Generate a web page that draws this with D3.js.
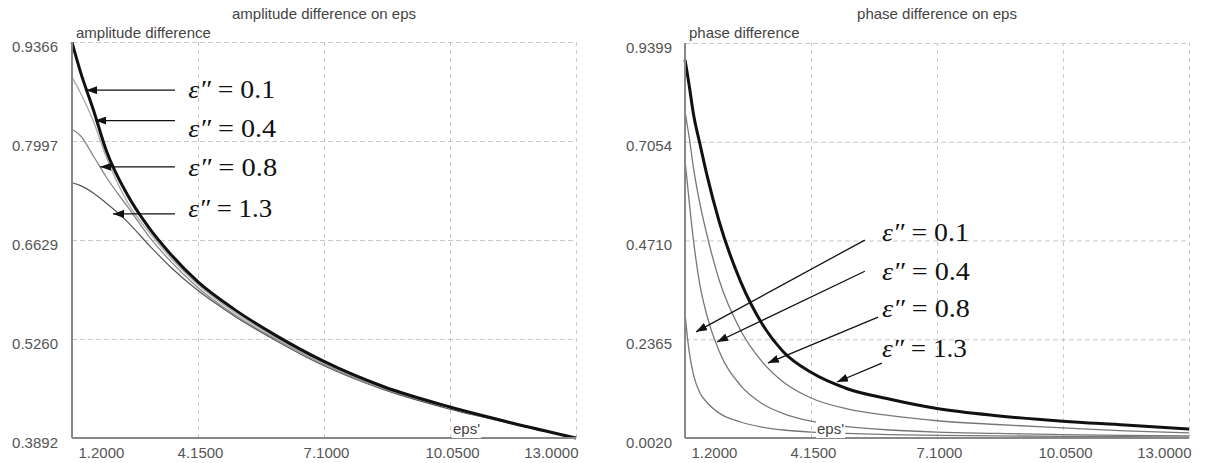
<!DOCTYPE html>
<html>
<head>
  <meta charset="utf-8">
  <script src="https://cdnjs.cloudflare.com/ajax/libs/d3/7.8.5/d3.min.js"></script>
  <style>
    body { margin: 0; background: #fff; }
    /* tick labels and titles */
    .tick text { font-family: "Liberation Sans", Arial, sans-serif; font-size: 15px; fill: #555; }
    .lbl { font-family: "Liberation Sans", Arial, sans-serif; font-size: 15px; fill: #444; }
    /* epsilon annotations */
    .eps { font-family: "Liberation Serif", "Times New Roman", serif; font-size: 25px; fill: #111; }
  </style>
</head>
<body>
<script>
"use strict";

// eps' sample points
var ampX = [1.2, 1.4, 1.7, 2.0, 2.5, 3.0, 3.5, 4.15, 5.0, 6.0, 7.1, 8.5, 10.05, 11.5, 13.0];
var phaseX = [1.2, 1.25, 1.3, 1.4, 1.55, 1.7, 2.0, 2.5, 3.0, 3.5, 4.15, 5.0, 6.0, 7.1, 8.5, 10.05, 11.5, 13.0];

// tick labels
var xTicks = [1.2, 4.15, 7.1, 10.05, 13.0];
var ampTicks = [0.3892, 0.5260, 0.6629, 0.7997, 0.9366];
var phaseTicks = [0.0020, 0.2365, 0.4710, 0.7054, 0.9399];

// amplitude difference for eps'' = 0.1, 0.4, 0.8, 1.3
var amp01 = [0.936, 0.895, 0.843, 0.787, 0.725, 0.680, 0.644, 0.605, 0.567, 0.530, 0.495, 0.460, 0.432, 0.410, 0.3892];
var amp04 = [0.888, 0.866, 0.827, 0.778, 0.715, 0.674, 0.639, 0.601, 0.563, 0.527, 0.493, 0.458, 0.431, 0.409, 0.3892];
var amp08 = [0.816, 0.807, 0.779, 0.750, 0.709, 0.668, 0.634, 0.597, 0.560, 0.525, 0.491, 0.457, 0.431, 0.409, 0.3892];
var amp13 = [0.742, 0.738, 0.728, 0.714, 0.688, 0.656, 0.626, 0.593, 0.558, 0.523, 0.489, 0.456, 0.429, 0.409, 0.3892];

// phase difference for eps'' = 0.1, 0.4, 0.8, 1.3
var phase01 = [0.299, 0.247, 0.206, 0.152, 0.109, 0.088, 0.061, 0.040, 0.028, 0.021, 0.016, 0.013, 0.010, 0.008, 0.007, 0.006, 0.005, 0.004];
var phase04 = [0.662, 0.612, 0.562, 0.470, 0.365, 0.298, 0.208, 0.127, 0.084, 0.060, 0.042, 0.029, 0.021, 0.016, 0.013, 0.010, 0.008, 0.007];
var phase08 = [0.779, 0.746, 0.715, 0.642, 0.558, 0.490, 0.377, 0.258, 0.184, 0.135, 0.097, 0.071, 0.055, 0.043, 0.034, 0.026, 0.019, 0.014];
var phase13 = [0.900, 0.870, 0.838, 0.770, 0.700, 0.632, 0.516, 0.374, 0.274, 0.207, 0.158, 0.119, 0.094, 0.072, 0.055, 0.042, 0.033, 0.023];

var svg = d3.select("body").append("svg")
    .attr("width", 1205)
    .attr("height", 463);

// arrow head
svg.append("defs").append("marker")
    .attr("id", "head")
    .attr("markerUnits", "userSpaceOnUse")
    .attr("markerWidth", 11).attr("markerHeight", 8)
    .attr("refX", 11).attr("refY", 4)
    .attr("orient", "auto")
  .append("path")
    .attr("d", "M0,0 L11,4 L0,8 z")
    .attr("fill", "#111");

var fmt = d3.format(".4f");
var bottom = 438;

function panel(o) {
    var g = svg.append("g");
    var x = d3.scaleLinear().domain([1.2, 13]).range([o.left, o.right]);
    var y = d3.scaleLinear().domain([o.yTicks[0], o.yTicks[4]]).range([bottom, o.top]);

    // dashed grid
    g.append("g").attr("transform", "translate(0," + bottom + ")")
        .call(d3.axisBottom(x).tickValues(xTicks.slice(1)).tickSize(-(bottom - o.top)).tickFormat(""))
        .call(function(s) { s.select(".domain").remove(); })
        .selectAll("line").attr("stroke", "#c8c8c8").attr("stroke-dasharray", "4,4");
    g.append("g").attr("transform", "translate(" + o.left + ",0)")
        .call(d3.axisLeft(y).tickValues(o.yTicks.slice(1)).tickSize(-(o.right - o.left)).tickFormat(""))
        .call(function(s) { s.select(".domain").remove(); })
        .selectAll("line").attr("stroke", "#c8c8c8").attr("stroke-dasharray", "5,3");

    // curves
    var line = d3.line()
        .x(function(d, i) { return x(o.xs[i]); })
        .y(function(d) { return y(d); })
        .curve(d3.curveMonotoneX);
    o.series.forEach(function(s) {
        g.append("path").datum(s.values)
            .attr("d", line)
            .attr("fill", "none")
            .attr("stroke", s.color)
            .attr("stroke-width", s.width);
    });

    // axis lines
    g.append("line").attr("x1", o.left).attr("x2", o.left).attr("y1", o.top).attr("y2", bottom)
        .attr("stroke", "#888").attr("stroke-width", 2);
    g.append("line").attr("x1", o.left).attr("x2", o.right).attr("y1", bottom).attr("y2", bottom)
        .attr("stroke", "#888").attr("stroke-width", 2);

    // tick labels
    var xa = g.append("g").attr("transform", "translate(0," + bottom + ")")
        .call(d3.axisBottom(x).tickValues(xTicks).tickSize(0).tickPadding(9).tickFormat(fmt));
    xa.select(".domain").remove();
    xa.selectAll("text").attr("x", 2);
    xa.selectAll("text").filter(function(d, i) { return i === 0; })
        .attr("text-anchor", "start").attr("x", 6);
    xa.selectAll("text").filter(function(d, i) { return i === xTicks.length - 1; })
        .attr("text-anchor", "end").attr("x", 2);

    var ya = g.append("g").attr("transform", "translate(" + o.left + ",0)")
        .call(d3.axisLeft(y).tickValues(o.yTicks).tickSize(0).tickPadding(o.pad).tickFormat(fmt));
    ya.select(".domain").remove();
    ya.selectAll("text").attr("dy", "0.6em");

    // titles
    g.append("text").attr("class", "lbl")
        .attr("x", (o.left + o.right) / 2).attr("y", 19)
        .attr("text-anchor", "middle")
        .text(o.title);

    function boxed(tx, ty, str) {
        var t = g.append("text").attr("class", "lbl").attr("x", tx).attr("y", ty).text(str);
        var b = t.node().getBBox();
        g.insert("rect", function() { return t.node(); })
            .attr("x", b.x - 1).attr("y", b.y).attr("width", b.width + 2).attr("height", b.height + 1)
            .attr("fill", "#fff");
    }
    boxed(o.left + 4, 38, o.yLabel);
    boxed(x(o.epsAt), 434, "eps'");

    // epsilon annotations
    o.notes.forEach(function(n) {
        g.append("line")
            .attr("x1", x(n.tail[0])).attr("y1", y(n.tail[1]))
            .attr("x2", x(n.tip[0])).attr("y2", y(n.tip[1]))
            .attr("stroke", "#111").attr("stroke-width", 1.3)
            .attr("marker-end", "url(#head)");
        var t = g.append("text").attr("class", "eps")
            .attr("x", x(n.at[0])).attr("y", y(n.at[1]))
            .attr("textLength", n.len).attr("lengthAdjust", "spacingAndGlyphs");
        t.append("tspan").attr("font-style", "italic").text("\u03b5\u2033");
        t.append("tspan").text(n.text);
    });

    return g;
}

// left: amplitude difference
panel({
    left: 72, right: 576, top: 42, pad: 14,
    yTicks: ampTicks, xs: ampX,
    title: "amplitude difference on eps",
    yLabel: "amplitude difference",
    epsAt: 10.12,
    series: [
        { values: amp13, color: "#555", width: 1.2 },
        { values: amp08, color: "#888", width: 1.3 },
        { values: amp04, color: "#aaa", width: 1.3 },
        { values: amp01, color: "#111", width: 3 }
    ],
    notes: [
        { tip: [1.53, 0.870], tail: [3.61, 0.870], at: [3.92, 0.859], text: " = 0.1", len: 87 },
        { tip: [1.74, 0.828], tail: [3.61, 0.828], at: [3.92, 0.805], text: " = 0.4", len: 88 },
        { tip: [1.86, 0.764], tail: [3.61, 0.764], at: [3.92, 0.751], text: " = 0.8", len: 89 },
        { tip: [2.16, 0.699], tail: [3.61, 0.699], at: [3.92, 0.695], text: " = 1.3", len: 84 }
    ]
});

// right: phase difference
panel({
    left: 685, right: 1189, top: 43, pad: 13,
    yTicks: phaseTicks, xs: phaseX,
    title: "phase difference on eps",
    yLabel: "phase difference",
    epsAt: 4.29,
    series: [
        { values: phase01, color: "#777", width: 1.3 },
        { values: phase04, color: "#777", width: 1.3 },
        { values: phase08, color: "#777", width: 1.3 },
        { values: phase13, color: "#111", width: 3 }
    ],
    notes: [
        { tip: [1.46, 0.254], tail: [5.41, 0.472], at: [5.81, 0.470], text: " = 0.1", len: 87 },
        { tip: [1.95, 0.230], tail: [5.41, 0.398], at: [5.81, 0.377], text: " = 0.4", len: 88 },
        { tip: [3.14, 0.180], tail: [5.72, 0.289], at: [5.81, 0.289], text: " = 0.8", len: 88 },
        { tip: [4.76, 0.135], tail: [5.81, 0.180], at: [5.81, 0.194], text: " = 1.3", len: 85 }
    ]
});
</script>
</body>
</html>
